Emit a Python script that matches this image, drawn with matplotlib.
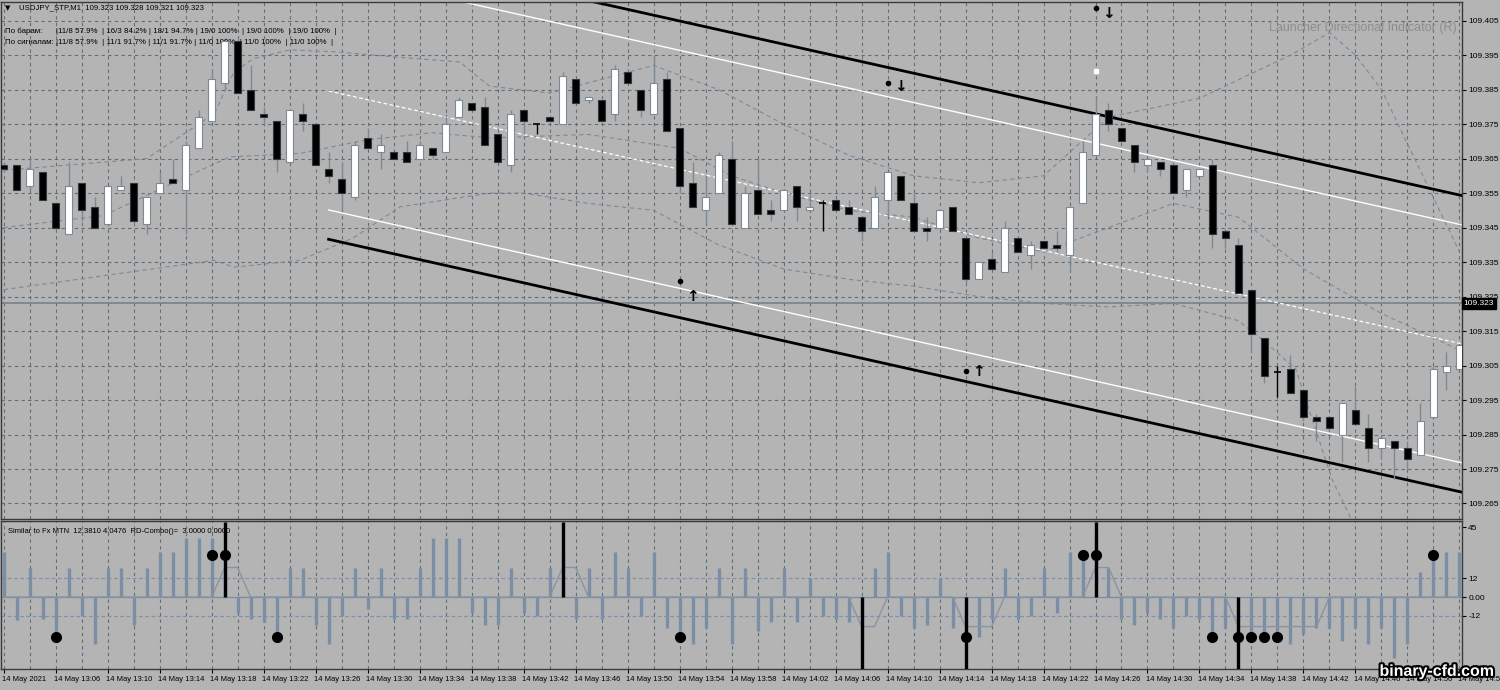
import matplotlib
matplotlib.use('Agg')
import matplotlib.pyplot as plt
import matplotlib.patheffects as pe
from matplotlib.transforms import blended_transform_factory as btf

plt.rcParams['font.family'] = ['Liberation Sans', 'DejaVu Sans']

# ---- candles, USDJPY M1, 13:02 .. 14:54
opens = [109.363,109.363,109.357,109.361,109.352,109.343,109.358,109.351,109.346,109.356,
         109.358,109.346,109.355,109.359,109.356,109.368,109.376,109.387,109.399,109.385,
         109.378,109.376,109.364,109.378,109.375,109.362,109.359,109.354,109.371,109.367,
         109.367,109.367,109.365,109.368,109.367,109.377,109.381,109.380,109.372,109.363,
         109.379,109.375,109.377,109.375,109.388,109.382,109.382,109.378,109.390,109.385,
         109.378,109.388,109.374,109.358,109.350,109.355,109.365,109.345,109.356,109.350,
         109.350,109.357,109.350,109.352,109.353,109.351,109.348,109.345,109.353,109.360,
         109.352,109.345,109.345,109.351,109.342,109.330,109.336,109.332,109.342,109.337,
         109.341,109.340,109.337,109.352,109.366,109.379,109.374,109.369,109.363,109.364,
         109.363,109.356,109.360,109.363,109.344,109.340,109.327,109.313,109.303,109.304,
         109.298,109.290,109.290,109.285,109.292,109.287,109.281,109.283,109.281,109.279,
         109.290,109.303,109.304]
highs = [109.364,109.363,109.365,109.361,109.352,109.364,109.358,109.354,109.357,109.360,
         109.358,109.354,109.361,109.365,109.370,109.379,109.391,109.400,109.400,109.392,
         109.380,109.376,109.379,109.381,109.375,109.367,109.364,109.370,109.374,109.372,
         109.367,109.370,109.370,109.368,109.378,109.383,109.381,109.383,109.372,109.379,
         109.379,109.375,109.377,109.390,109.388,109.383,109.382,109.392,109.391,109.385,
         109.395,109.390,109.374,109.364,109.360,109.367,109.370,109.357,109.365,109.353,
         109.356,109.357,109.355,109.353,109.353,109.353,109.348,109.357,109.361,109.360,
         109.355,109.348,109.350,109.351,109.342,109.335,109.338,109.347,109.342,109.341,
         109.341,109.344,109.351,109.370,109.383,109.381,109.374,109.369,109.365,109.364,
         109.363,109.362,109.362,109.365,109.344,109.342,109.327,109.313,109.305,109.308,
         109.298,109.291,109.290,109.294,109.299,109.291,109.284,109.283,109.283,109.294,
         109.305,109.309,109.311]
lows = [109.361,109.356,109.356,109.353,109.345,109.343,109.347,109.345,109.346,109.356,
        109.346,109.343,109.355,109.358,109.343,109.368,109.376,109.385,109.384,109.379,
        109.375,109.361,109.364,109.373,109.363,109.358,109.350,109.353,109.368,109.362,
        109.365,109.364,109.365,109.365,109.367,109.377,109.379,109.369,109.364,109.361,
        109.372,109.372,109.376,109.375,109.381,109.381,109.376,109.376,109.387,109.377,
        109.378,109.373,109.355,109.351,109.346,109.355,109.346,109.345,109.349,109.347,
        109.350,109.347,109.350,109.344,109.350,109.349,109.341,109.345,109.348,109.353,
        109.344,109.341,109.345,109.344,109.329,109.330,109.333,109.332,109.338,109.333,
        109.339,109.338,109.333,109.352,109.366,109.373,109.370,109.361,109.361,109.360,
        109.355,109.354,109.360,109.339,109.339,109.326,109.309,109.300,109.296,109.297,
        109.289,109.283,109.286,109.277,109.288,109.277,109.278,109.272,109.275,109.279,
        109.290,109.298,109.304]
closes = [109.362,109.356,109.362,109.353,109.345,109.357,109.350,109.345,109.357,109.357,
          109.347,109.354,109.358,109.358,109.369,109.377,109.388,109.399,109.384,109.379,
          109.377,109.365,109.379,109.376,109.363,109.360,109.355,109.369,109.368,109.369,
          109.365,109.364,109.369,109.366,109.375,109.382,109.379,109.369,109.364,109.378,
          109.376,109.375,109.376,109.389,109.381,109.383,109.376,109.391,109.387,109.379,
          109.387,109.373,109.357,109.351,109.354,109.366,109.346,109.355,109.349,109.349,
          109.356,109.351,109.351,109.352,109.350,109.349,109.344,109.354,109.361,109.353,
          109.344,109.344,109.350,109.344,109.330,109.335,109.333,109.345,109.338,109.340,
          109.339,109.339,109.351,109.367,109.378,109.375,109.370,109.364,109.365,109.362,
          109.355,109.362,109.362,109.343,109.342,109.326,109.314,109.302,109.303,109.297,
          109.290,109.289,109.287,109.294,109.288,109.281,109.284,109.281,109.278,109.289,
          109.304,109.305,109.311]

time_labels = ['14 May 2021'] + ['14 May 13:%02d' % m for m in range(6, 60, 4)] + \
              ['14 May 14:%02d' % m for m in range(2, 55, 4)]
price_ticks = [109.265, 109.275, 109.285, 109.295, 109.305, 109.315, 109.325, 109.335,
               109.345, 109.355, 109.365, 109.375, 109.385, 109.395, 109.405]
last_price = 109.323

# regression channel (start bar, end bar)
chan_x = [25, 113]
chan_mid = [109.3846, 109.3106]
chan_in = 0.0345
chan_out = 0.0430

# dashed envelopes (bar, price)
bb_up_x = [0, 11, 16.2, 17.7, 19.2, 22, 25.4, 30, 35.1, 36.7, 37.4, 42, 45, 48, 50, 55, 60, 65,
           70, 75, 80, 85, 92, 99, 102, 104, 106, 112]
bb_up_y = [109.3616, 109.365, 109.378, 109.390, 109.394, 109.3965, 109.396, 109.3945, 109.393, 109.388,
           109.386, 109.384, 109.387, 109.390, 109.392, 109.385, 109.375, 109.366, 109.360, 109.358,
           109.360, 109.377, 109.3825, 109.395, 109.4015, 109.395, 109.385, 109.338]
bb_mid_x = [0, 7.7, 14.8, 17.4, 22.8, 28, 33, 37.4, 45, 52, 56, 60, 65, 70, 75, 80, 85, 90, 95,
            100, 105.8, 112]
bb_mid_y = [109.345, 109.3485, 109.361, 109.3655, 109.3665, 109.3705, 109.3725, 109.371, 109.372,
            109.368, 109.360, 109.355, 109.350, 109.348, 109.342, 109.338, 109.345, 109.352, 109.348,
            109.333, 109.3205, 109.3095]
bb_lo_x = [0, 16.2, 17.7, 22.8, 26.9, 30.5, 37.4, 40, 45, 50, 55, 60, 65, 70, 75, 80, 85, 90, 95,
           97, 99.4, 102.2, 105]
bb_lo_y = [109.327, 109.3355, 109.3335, 109.3355, 109.342, 109.351, 109.355, 109.355, 109.352,
           109.350, 109.340, 109.333, 109.330, 109.328, 109.325, 109.323, 109.322, 109.323, 109.318,
           109.312, 109.304, 109.272, 109.250]

# signal marks (bar, price)
dn_arrow_x = [69, 85]
dn_arrow_y = [109.3860, 109.4072]
up_arrow_x = [53, 75]
up_arrow_y = [109.3250, 109.3034]
dot_x = [68, 84, 52, 74]
dot_y = [109.3869, 109.4086, 109.3295, 109.3034]

# lower indicator
hist = [29, -15, 19, -14, -26, 19, -12, -30, 19, 19,
        -18, 19, 29, 29, 38, 38, 38, 19, -10, -14,
        -16, -26, 19, 19, -18, -30, -12, 19, -8, 19,
        -14, -14, 19, 38, 38, 38, -10, -18, -18, 19,
        -10, -12, 19, 29, -14, 19, -14, 29, 19, -12,
        29, -20, -26, -30, -20, 19, -30, 19, -22, -16,
        19, -16, 12, -12, -14, -16, -30, 19, 29, -12,
        -20, -18, 12, -20, -26, -26, -14, 19, -14, -12,
        19, -10, 29, 29, 38, 19, -14, -18, -10, -14,
        -20, -12, -14, -26, -20, -30, -26, -26, -26, -30,
        -24, -20, -20, -28, -20, -30, -20, -39, -30, 16,
        27, 29, 29]
rd_x = [0, 16, 17, 18, 19, 42, 43, 44, 45, 65, 66, 67, 68, 73, 74, 76, 77, 83, 84, 85, 86,
        94, 95, 101, 102, 112]
rd_y = [0, 0, 19, 19, 0, 0, 19, 19, 0, 0, -19, -19, 0, 0, -19, -19, 0, 0, 19, 19, 0,
        0, -19, -19, 0, 0]
sig_bar_x = [17, 43, 84, 66, 74, 95]
sig_bar_y = [48, 48, 48, -47, -47, -47]
sig_dot_x = [16, 17, 83, 84, 110, 4, 21, 52, 74, 93, 95, 96, 97, 98]
sig_dot_y = [27, 27, 27, 27, 27, -26, -26, -26, -26, -26, -26, -26, -26, -26]

BG = '#b4b4b4'
GRID = '#646d76'
WICK = '#7d8995'

fig = plt.figure(figsize=(15, 6.9), dpi=100, facecolor=BG)
ax = fig.add_axes([0.0007, 0.2478, 0.9740, 0.7493], facecolor=BG)
ax2 = fig.add_axes([0.0007, 0.0304, 0.9740, 0.2145], facecolor=BG, sharex=ax)

n = len(closes)
xs = list(range(n))
for g in (ax, ax2):
    for k in range(0, n + 1, 2):
        g.axvline(k, color=GRID, lw=0.8, ls=(0, (3, 3)), zorder=0)
for p in price_ticks:
    ax.axhline(p, color=GRID, lw=0.8, ls=(0, (3, 3)), zorder=0)

# envelopes
for bx, by in ((bb_up_x, bb_up_y), (bb_mid_x, bb_mid_y), (bb_lo_x, bb_lo_y)):
    ax.plot(bx, by, color='#7b8a9a', lw=0.8, ls=(0, (4, 3)), zorder=1)

# channel
mid = chan_mid
ax.plot(chan_x, mid, color='white', lw=0.9, ls=(0, (3, 2)), zorder=2)
for off, col, lw in ((chan_in, 'white', 1.0), (chan_out, 'black', 2.0)):
    ax.plot(chan_x, [m + off for m in mid], color=col, lw=lw, zorder=2)
    ax.plot(chan_x, [m - off for m in mid], color=col, lw=lw, zorder=2)

# current price line
ax.axhline(last_price, color='#79828b', lw=1.2, zorder=1)

# candles
w = 0.56
for k in xs:
    o, h, l, c = opens[k], highs[k], lows[k], closes[k]
    if o == c:
        ax.vlines(k, l, h, color='black', lw=1, zorder=3)
        ax.hlines(o, k - w / 2, k + w / 2, color='black', lw=1.2, zorder=4)
        continue
    ax.vlines(k, l, h, color=WICK, lw=1, zorder=3)
    up = c > o
    ax.bar(k, abs(c - o), w, bottom=min(o, c), color='white' if up else 'black',
           edgecolor=WICK if up else '#303840', lw=0.8, zorder=4)

# signal marks
for x, y in zip(dot_x, dot_y):
    ax.plot(x, y, 'o', color='black', ms=3, zorder=5)
for x, y in zip(dn_arrow_x, dn_arrow_y):
    ax.text(x, y, '\u2193', ha='center', va='center', fontsize=11, fontweight='bold',
            family='DejaVu Sans', zorder=5)
for x, y in zip(up_arrow_x, up_arrow_y):
    ax.text(x, y, '\u2191', ha='center', va='center', fontsize=11, fontweight='bold',
            family='DejaVu Sans', zorder=5)
ax.plot(84, 109.3904, 's', color='white', ms=3, zorder=5)

ax.set_xlim(-0.2, 112.2)
ax.set_ylim(109.2605, 109.4104)
ax.yaxis.tick_right()
ax.set_yticks(price_ticks)
ax.set_yticklabels(['%.3f' % p for p in price_ticks], fontsize=6)
ax.tick_params(axis='y', length=3, pad=1.5, colors='black')
ax.tick_params(axis='x', bottom=False, labelbottom=False)
ax.text(1.0012, last_price, '%.3f' % last_price, transform=btf(ax.transAxes, ax.transData),
        fontsize=6, color='white', va='center', ha='left',
        bbox=dict(boxstyle='square,pad=0.2', fc='black', ec='black'))

# header texts
ax.text(0.003, 0.988, '\u25bc', transform=ax.transAxes, fontsize=5, va='center', family='DejaVu Sans')
ax.text(0.012, 0.988, 'USDJPY_STP,M1  109.323 109.328 109.321 109.323', transform=ax.transAxes,
        fontsize=5.6, va='center')
ax.text(0.003, 0.944, '\u041f\u043e \u0431\u0430\u0440\u0430\u043c:      |11/8 57.9%  | 16/3 84.2% | 18/1 94.7% | 19/0 100%  | 19/0 100%  | 19/0 100%  |',
        transform=ax.transAxes, fontsize=5.7, va='center')
ax.text(0.003, 0.922, '\u041f\u043e \u0441\u0438\u0433\u043d\u0430\u043b\u0430\u043c: |11/8 57.9%  | 11/1 91.7% | 11/1 91.7% | 11/0 100%  | 11/0 100%  | 11/0 100%  |',
        transform=ax.transAxes, fontsize=5.7, va='center')
ax.text(0.9965, 0.950, 'Launcher Directional Indicator (R)', transform=ax.transAxes,
        fontsize=9, color='#8e8e8e', ha='right', va='center')

# lower panel
ax2.axhline(12, color='#7d92ab', lw=0.9, ls=(0, (3, 2)), zorder=1)
ax2.axhline(-12, color='#7d92ab', lw=0.9, ls=(0, (3, 2)), zorder=1)
ax2.axhline(0, color='#7d8ea0', lw=1.0, zorder=1)
ax2.vlines(xs, 0, hist, color='#7b8ea3', lw=2.4, zorder=2)
ax2.plot(rd_x, rd_y, color='#8794a2', lw=1.0, zorder=2)
ax2.vlines(sig_bar_x, 0, sig_bar_y, color='black', lw=2.4, zorder=3)
ax2.plot(sig_dot_x, sig_dot_y, 'o', color='black', ms=7, zorder=4)
ax2.set_ylim(-46.3, 48.9)
ax2.yaxis.tick_right()
ax2.set_yticks([45, 12, 0, -12, -45])
ax2.set_yticklabels(['45', '12', '0.00', '-12', '-45'], fontsize=6)
ax2.tick_params(axis='y', length=3, pad=1.5)
ax2.set_xticks(range(0, 113, 4))
ax2.set_xticklabels([])
ax2.tick_params(axis='x', length=3, direction='out')
for i, k in enumerate(range(0, 113, 4)):
    ax2.text(k - 0.1, -0.05, time_labels[i], transform=btf(ax2.transData, ax2.transAxes),
             fontsize=5.5, ha='left', va='top', clip_on=False)
ax2.text(0.005, 0.93, 'Similar to Fx MTN  12.3810 4.0476  RD-Combo()=  3.0000 0.0000',
         transform=ax2.transAxes, fontsize=5.5, va='center')

for g in (ax, ax2):
    for s in g.spines.values():
        s.set_color('#3a3a3a')
        s.set_linewidth(1)

fig.text(0.958, 0.027, 'binary-cfd.com', fontsize=11.5, fontweight='bold', color='white',
         ha='center', va='center',
         path_effects=[pe.withStroke(linewidth=3, foreground='black')])

fig.savefig('out.png', dpi=100, facecolor=BG)
